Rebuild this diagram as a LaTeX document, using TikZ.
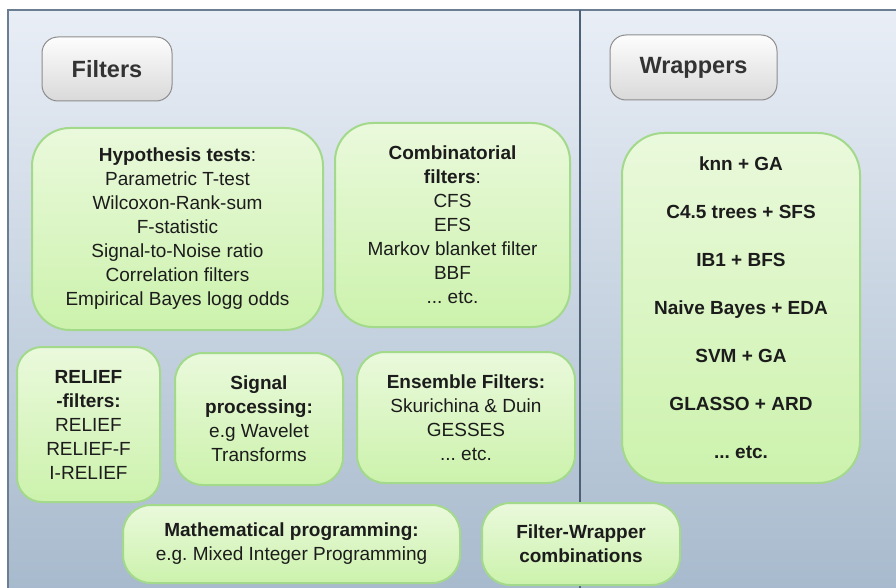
\documentclass[tikz,border=0pt]{standalone}
\usepackage{fontspec}
\setmainfont{Liberation Sans}
\definecolor{bgtop}{HTML}{E9EEF6}
\definecolor{bgbot}{HTML}{A6B9CC}
\definecolor{frame}{HTML}{6A7D91}
\definecolor{divider}{HTML}{4E6074}
\definecolor{gtop}{HTML}{EAF9DC}
\definecolor{gbot}{HTML}{CCF2AC}
\definecolor{gborder}{HTML}{A3D98A}
\definecolor{wtop}{HTML}{FDFDFD}
\definecolor{wbot}{HTML}{D9D9D9}
\definecolor{wborder}{HTML}{8C8C8C}
\definecolor{txt}{HTML}{1C1C1C}
\definecolor{ttxt}{HTML}{333333}
\begin{document}
\frenchspacing
\begin{tikzpicture}[x=1pt,y=-1pt,
  gbox/.style={draw=gborder, line width=2pt, rounded corners=#1,
    top color=gtop, bottom color=gbot, align=center, text=txt,
    inner sep=0pt, font=\fontsize{19}{24}\selectfont\frenchspacing},
  gbox/.default=30pt,
  tbox/.style={draw=wborder, line width=1pt, rounded corners=16pt,
    top color=wtop, bottom color=wbot, align=center, text=ttxt,
    inner sep=0pt, font=\fontsize{23.5}{28}\selectfont\bfseries},
  wlist/.style={gbox=42pt, font=\fontsize{19}{48}\selectfont\bfseries\frenchspacing}
]
\useasboundingbox (0,0) rectangle (896,588);
\begin{scope}
\clip (0,0) rectangle (896,588);
\shade[top color=bgtop, bottom color=bgbot] (8,10) rectangle (905,600);
\draw[frame, line width=1.5pt] (8,600) -- (8,10) -- (905,10);
\draw[divider, line width=1.2pt] (580,10) -- (580,600);

\node[tbox, minimum width=130pt, minimum height=64pt] (filters) at (107,69) {Filters};
\node[tbox, minimum width=167pt, minimum height=65pt] (wrappers) at (693.5,67.5) {Wrappers};

\node[gbox=38pt, minimum width=291pt, minimum height=202pt] (hyp) at (177.5,229)
  {\textbf{Hypothesis tests}:\\Parametric T-test\\Wilcoxon-Rank-sum\\F-statistic\\Signal-to-Noise ratio\\Correlation filters\\Empirical Bayes logg odds};
\node[gbox=38pt, minimum width=235pt, minimum height=204pt] (comb) at (452.5,225)
  {\textbf{Combinatorial}\\\textbf{filters}:\\CFS\\EFS\\Markov blanket filter\\BBF\\...\ etc.};
\node[wlist, minimum width=238pt, minimum height=350pt] (wl) at (741,308)
  {knn + GA\\C4.5 trees + SFS\\IB1 + BFS\\Naive Bayes + EDA\\SVM + GA\\GLASSO + ARD\\...\ etc.};
\node[gbox=25pt, minimum width=143pt, minimum height=155pt] (relief) at (88.5,424.5)
  {\textbf{RELIEF}\\\textbf{-filters:}\\RELIEF\\RELIEF-F\\I-RELIEF};
\node[gbox=28pt, minimum width=168pt, minimum height=132pt] (signal) at (259,419)
  {\textbf{Signal}\\\textbf{processing:}\\e.g Wavelet\\Transforms};
\node[gbox=28pt, minimum width=218pt, minimum height=131pt] (ens) at (466,417.5)
  {\textbf{Ensemble Filters:}\\Skurichina \& Duin\\GESSES\\...\ etc.};
\node[gbox=28pt, minimum width=337pt, minimum height=78pt] (math) at (291.5,544)
  {\textbf{Mathematical programming:}\\e.g.\ Mixed Integer Programming};
\node[gbox=28pt, minimum width=198pt, minimum height=82pt] (fw) at (581,544)
  {\textbf{Filter-Wrapper}\\\textbf{combinations}};
\end{scope}
\end{tikzpicture}
\end{document}
